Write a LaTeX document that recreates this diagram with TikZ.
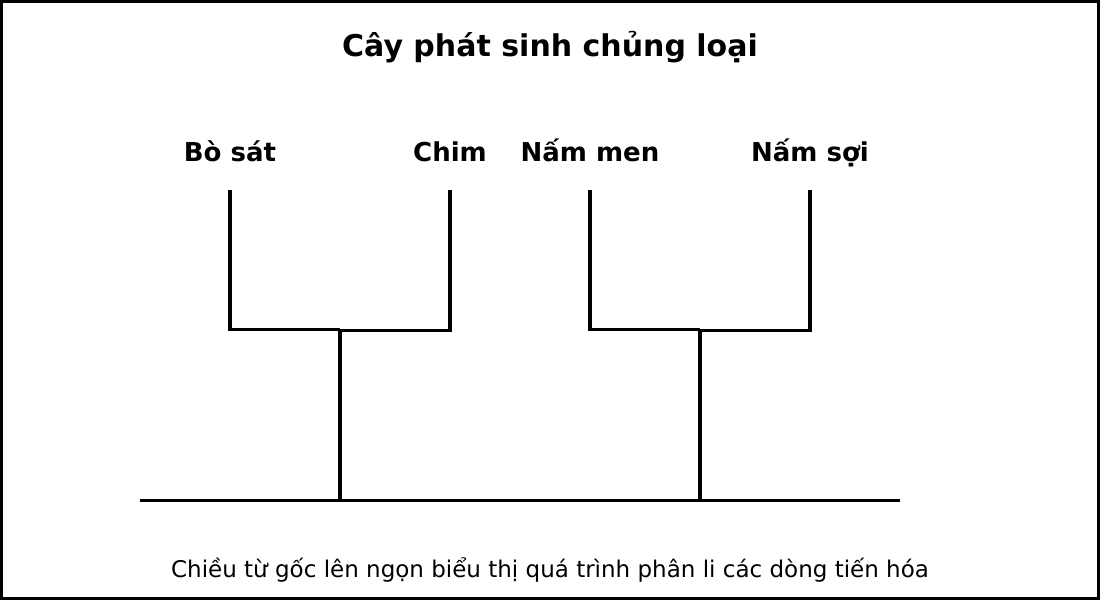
\documentclass[tikz,border=0pt]{standalone}
\usepackage{fontspec}
\setmainfont{DejaVu Sans}
\begin{document}
\begin{tikzpicture}[x=1pt,y=-1pt,
  branch/.style={line width=3.6pt,line cap=butt},
  taxon/.style={font=\bfseries\fontsize{26}{30}\selectfont,inner sep=0pt,anchor=base},
  titlestyle/.style={font=\bfseries\fontsize{30}{34}\selectfont,inner sep=0pt,anchor=base},
  notestyle/.style={font=\fontsize{23}{27}\selectfont,inner sep=0pt,anchor=base}]
\useasboundingbox (0,0) rectangle (1100,600);
\draw[line width=3pt] (1.5,1.5) rectangle (1098.5,598.5);
\node[titlestyle] (title) at (550,56) {Cây phát sinh chủng loại};
\node[taxon] (bosat) at (230,161.5) {Bò sát};
\node[taxon] (chim) at (450,161.5) {Chim};
\node[taxon] (nammen) at (590,161.5) {Nấm men};
\node[taxon] (namsoi) at (810,161.5) {Nấm sợi};
\coordinate (a1) at (230,190); \coordinate (a2) at (230,329.5);
\coordinate (b1) at (450,190); \coordinate (b2) at (450,330.5);
\coordinate (c1) at (590,190); \coordinate (c2) at (590,329.5);
\coordinate (d1) at (810,190); \coordinate (d2) at (810,330.5);
\coordinate (j1) at (340,329.5); \coordinate (j1r) at (340,330.5);
\coordinate (j2) at (700,329.5); \coordinate (j2r) at (700,330.5);
\coordinate (r1) at (340,500.5); \coordinate (r2) at (700,500.5);
\coordinate (root0) at (140,500.5); \coordinate (root1) at (900,500.5);
\draw[branch] (a1) -- (a2) -- (j1);
\draw[branch] (j1r) -- (b2) -- (b1);
\draw[branch] (c1) -- (c2) -- (j2);
\draw[branch] (j2r) -- (d2) -- (d1);
\draw[branch] (j1) -- (r1);
\draw[branch] (j2) -- (r2);
\draw[branch] (root0) -- (root1);
\node[notestyle] (note) at (550,577) {Chiều từ gốc lên ngọn biểu thị quá trình phân li các dòng tiến hóa};
\end{tikzpicture}
\end{document}
